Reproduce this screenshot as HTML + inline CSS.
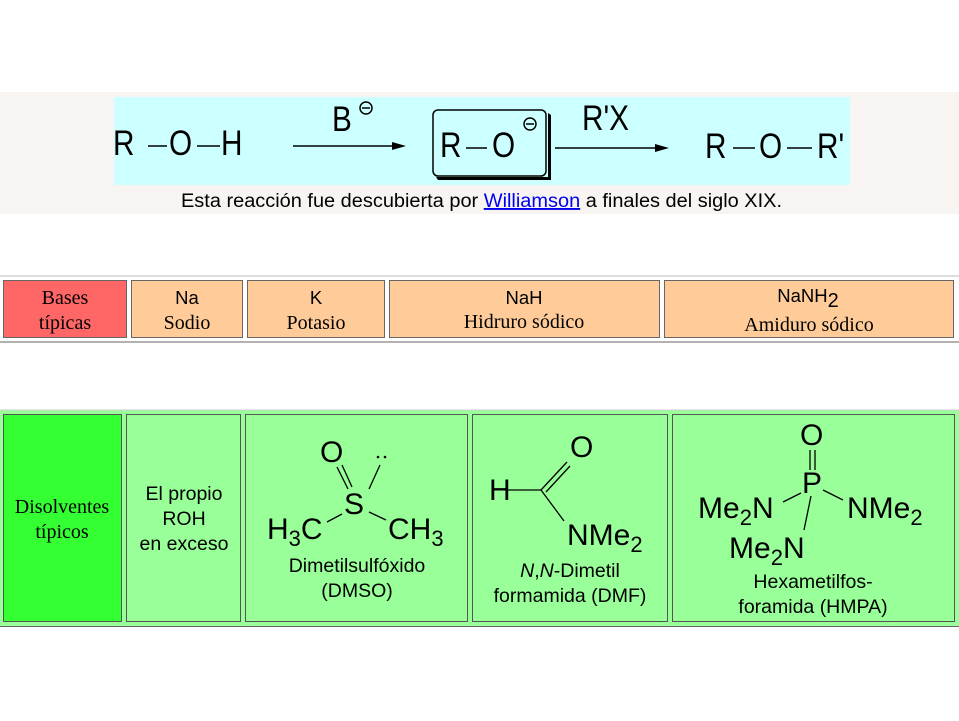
<!DOCTYPE html>
<html><head><meta charset="utf-8"><style>
html,body{margin:0;padding:0;background:#fff;width:959px;height:721px;overflow:hidden}
svg text{font-family:"Liberation Sans",Arial,sans-serif}
.s{font-family:"Liberation Serif","Times New Roman",serif !important}
</style></head><body>
<svg width="959" height="721" viewBox="0 0 959 721" xmlns="http://www.w3.org/2000/svg">
<rect x="0" y="92" width="959" height="122" fill="#f8f4f1"/>
<rect x="114" y="97" width="736" height="88" fill="#ccffff"/>
<g fill="#000" font-size="35">
<text x="113" y="155" transform="translate(113 0) scale(0.85 1) translate(-113 0)">R</text>
<text x="169" y="155" transform="translate(169 0) scale(0.85 1) translate(-169 0)">O</text>
<text x="221" y="155" transform="translate(221 0) scale(0.85 1) translate(-221 0)">H</text>
<text x="332" y="131" transform="translate(332 0) scale(0.85 1) translate(-332 0)">B</text>
<text x="440" y="157" transform="translate(440 0) scale(0.85 1) translate(-440 0)">R</text>
<text x="492" y="157" transform="translate(492 0) scale(0.85 1) translate(-492 0)">O</text>
<text x="582" y="130" transform="translate(582 0) scale(0.85 1) translate(-582 0)">R'X</text>
<text x="705" y="158" transform="translate(705 0) scale(0.85 1) translate(-705 0)">R</text>
<text x="759" y="158" transform="translate(759 0) scale(0.85 1) translate(-759 0)">O</text>
<text x="817" y="158" transform="translate(817 0) scale(0.85 1) translate(-817 0)">R'</text>
</g>
<g stroke="#000" stroke-width="1.5" fill="none">
<line x1="148" y1="146" x2="167" y2="146"/><line x1="197" y1="146" x2="220" y2="146"/>
<line x1="466" y1="148" x2="487" y2="148"/>
<line x1="733" y1="148" x2="755" y2="148"/><line x1="787" y1="148" x2="812" y2="148"/>
<line x1="293" y1="146" x2="398" y2="146"/><line x1="555" y1="148" x2="661" y2="148"/>
<circle cx="366" cy="108" r="6"/><line x1="362" y1="108" x2="370" y2="108"/>
<circle cx="530" cy="124" r="6"/><line x1="526" y1="124" x2="534" y2="124"/>
<rect x="433" y="110" width="113" height="66" rx="5"/>
</g>
<path d="M436 177 L548 177 L548 113 L551 115 L551 180 L438 180 Z" fill="#000"/>
<path d="M392 142 L406 146 L392 150 Z M655 144 L669 148 L655 152 Z" fill="#000"/>
<text x="181" y="207" font-size="19" textLength="601" lengthAdjust="spacingAndGlyphs">Esta reacción fue descubierta por <tspan fill="#0000ee" text-decoration="underline">Williamson</tspan> a finales del siglo XIX.</text>

<line x1="0" y1="276" x2="959" y2="276" stroke="#bbb"/>
<line x1="0" y1="342" x2="959" y2="342" stroke="#666"/>
<g stroke="#666" stroke-width="1">
<rect x="3.5" y="280.5" width="123" height="57" fill="#ff6666"/>
<rect x="131.5" y="280.5" width="111" height="57" fill="#ffcc99"/>
<rect x="247.5" y="280.5" width="137" height="57" fill="#ffcc99"/>
<rect x="389.5" y="280.5" width="270" height="57" fill="#ffcc99"/>
<rect x="664.5" y="280.5" width="289" height="57" fill="#ffcc99"/>
</g>
<g font-size="18.5" text-anchor="middle">
<text class="s" x="65" y="304" font-size="20">Bases</text><text class="s" x="65" y="329" font-size="20">típicas</text>
<text x="187" y="304">Na</text><text class="s" x="187" y="329" font-size="20">Sodio</text>
<text x="316" y="304">K</text><text class="s" x="316" y="329" font-size="20">Potasio</text>
<text x="524" y="304">NaH</text><text class="s" x="524" y="328" font-size="20">Hidruro sódico</text>
<text x="808" y="302">NaNH<tspan font-size="20" dy="5">2</tspan></text><text class="s" x="809" y="331" font-size="20">Amiduro sódico</text>
</g>

<rect x="0" y="410" width="959" height="217" fill="#99ff99"/>
<line x1="0" y1="410" x2="959" y2="410" stroke="#ccc"/>
<line x1="0" y1="626.5" x2="959" y2="626.5" stroke="#666"/>
<g stroke="#555" stroke-width="1">
<rect x="3.5" y="414.5" width="118" height="207" fill="#33ff33"/>
<rect x="126.5" y="414.5" width="114" height="207" fill="#99ff99"/>
<rect x="245.5" y="414.5" width="222" height="207" fill="#99ff99"/>
<rect x="472.5" y="414.5" width="195" height="207" fill="#99ff99"/>
<rect x="672.5" y="414.5" width="282" height="207" fill="#99ff99"/>
</g>
<g font-size="19.5" text-anchor="middle">
<text class="s" x="62" y="513" font-size="20">Disolventes</text><text class="s" x="62" y="538" font-size="20">típicos</text>
<text x="184" y="500">El propio</text><text x="184" y="525">ROH</text><text x="184" y="550">en exceso</text>
<text x="357" y="572">Dimetilsulfóxido</text><text x="357" y="597">(DMSO)</text>
<text x="570" y="577"><tspan font-style="italic">N</tspan>,<tspan font-style="italic">N</tspan>-Dimetil</text><text x="570" y="602">formamida (DMF)</text>
<text x="813" y="588">Hexametilfos-</text><text x="813" y="613">foramida (HMPA)</text>
</g>
<g font-size="30">
<text x="320" y="462">O</text>
<text x="344" y="514">S</text>
<text x="267" y="539">H<tspan font-size="22" dy="7">3</tspan><tspan dy="-7">C</tspan></text>
<text x="388" y="539">C<tspan>H</tspan><tspan font-size="22" dy="7">3</tspan></text>
<text x="570" y="457">O</text>
<text x="489" y="500">H</text>
<text x="567" y="545">NMe<tspan font-size="22" dy="7">2</tspan></text>
<text x="800" y="445">O</text>
<text x="802" y="493">P</text>
<text x="698" y="518">Me<tspan font-size="22" dy="7">2</tspan><tspan dy="-7">N</tspan></text>
<text x="847" y="518">NMe<tspan font-size="22" dy="7">2</tspan></text>
<text x="729" y="558">Me<tspan font-size="22" dy="7">2</tspan><tspan dy="-7">N</tspan></text>
</g>
<g stroke="#000" stroke-width="1.3">
<line x1="337" y1="467" x2="348" y2="489"/><line x1="342" y1="465" x2="352" y2="487"/>
<line x1="380" y1="465" x2="369" y2="489"/>
<line x1="327" y1="522" x2="342" y2="514"/><line x1="369" y1="512" x2="386" y2="520"/>
<line x1="508" y1="490" x2="541" y2="490"/>
<line x1="541" y1="490" x2="567" y2="462"/><line x1="546" y1="492" x2="570" y2="466"/>
<line x1="541" y1="490" x2="564" y2="521"/>
<line x1="810" y1="450" x2="810" y2="470"/><line x1="815" y1="450" x2="815" y2="470"/>
<line x1="783" y1="502" x2="801" y2="493"/><line x1="823" y1="490" x2="843" y2="500"/>
<line x1="811" y1="496" x2="804" y2="530"/>
</g>
<circle cx="378" cy="457" r="1.3"/><circle cx="385" cy="457" r="1.3"/>
</svg>
</body></html>
